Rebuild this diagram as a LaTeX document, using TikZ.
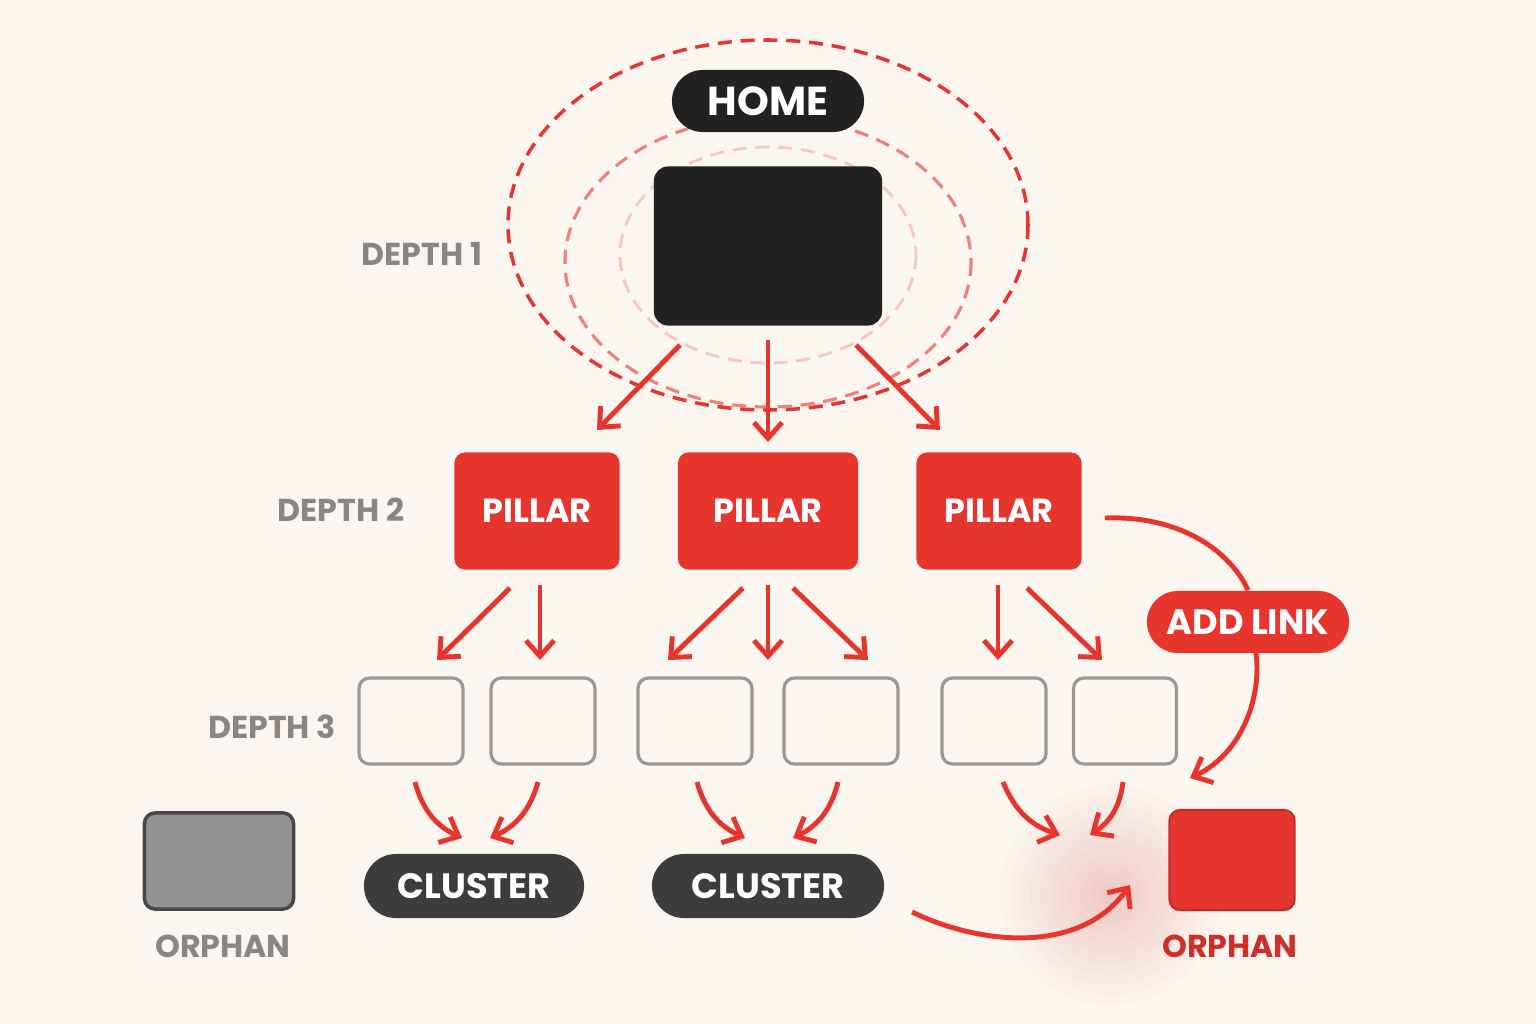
\documentclass[tikz,border=0pt]{standalone}
\usepackage{fontspec}
\setmainfont{Poppins}
\usetikzlibrary{arrows.meta}
\definecolor{bg}{HTML}{FBF6F0}
\definecolor{rd}{HTML}{E5352D}
\definecolor{dk}{HTML}{222222}
\definecolor{cl}{HTML}{3C3C3C}
\definecolor{gt}{HTML}{8A8684}
\definecolor{bx}{HTML}{9A9896}
\begin{document}
\begin{tikzpicture}[x=0.01cm,y=-0.01cm,
 arr/.style={rd,line width=1.4pt,-{Straight Barb[length=4.5pt,width=8pt]}},
 lbl/.style={font=\bfseries\fontsize{9}{9}\selectfont,text=gt},
 pill/.style={draw=none,text=white,font=\bfseries\fontsize{10}{10}\selectfont,minimum height=0.62cm,rounded corners=0.31cm},
 pillar/.style={fill=rd,rounded corners=3pt,minimum width=1.65cm,minimum height=1.17cm,text=white,font=\bfseries\fontsize{9.5}{9.5}\selectfont},
 d3/.style={draw=bx,line width=0.9pt,rounded corners=3pt,fill=bg}]
\fill[bg] (0,0) rectangle (1536,1024);
\foreach \r in {110,100,...,10} \fill[rd,opacity=0.018] (1110,895) circle (\r);
% ellipses
\draw[rd,line width=1pt,dash pattern=on 4pt off 2.5pt] (768,225) ellipse [x radius=260,y radius=185];
\draw[rd!60!bg,line width=0.9pt,dash pattern=on 4pt off 2.5pt] (768,262) ellipse [x radius=203,y radius=145];
\draw[rd!25!bg,line width=0.8pt,dash pattern=on 4pt off 2.5pt] (768,255) ellipse [x radius=148,y radius=108];
\node[pill,fill=dk,minimum width=1.92cm,font=\bfseries\fontsize{11.5}{11.5}\selectfont] (home) at (768,101) {HOME};
\node[fill=dk,rounded corners=4pt,minimum width=2.28cm,minimum height=1.59cm] (hb) at (768,246) {};
\node[lbl] (d1) at (422,254) {DEPTH 1};
\node[lbl] (d2) at (341,510) {DEPTH 2};
\node[lbl] (d3) at (272,727) {DEPTH 3};
\node[pillar] (p1) at (537,511) {PILLAR};
\node[pillar,minimum width=1.80cm] (p2) at (768,511) {PILLAR};
\node[pillar] (p3) at (999,511) {PILLAR};
\coordinate (a1) at (680,345); \coordinate (b1) at (597,430);
\coordinate (a2) at (768,340); \coordinate (b2) at (768,442);
\coordinate (a3) at (856,345); \coordinate (b3) at (940,430);
\draw[arr] (a1)--(b1); \draw[arr] (a2)--(b2); \draw[arr] (a3)--(b3);
% depth3 boxes
\foreach \n/\x/\w in {q1/411/104,q2/543/104,q3/695/114,q4/841/114,q5/994/104,q6/1125/103}
  \node[d3,minimum width=\w*0.01cm,minimum height=0.86cm] (\n) at (\x,721) {};
\foreach \s/\e in {{(510,588)}/{(437,660)},{(540,585)}/{(540,660)},{(743,588)}/{(668,660)},{(768,585)}/{(768,660)},{(793,588)}/{(868,660)},{(998,585)}/{(998,660)},{(1027,588)}/{(1102,660)}}
  \draw[arr] \s -- \e;
% clusters
\node[pill,fill=cl,minimum width=2.2cm,minimum height=0.64cm,rounded corners=0.32cm] (c1) at (474,886) {CLUSTER};
\node[pill,fill=cl,minimum width=2.32cm,minimum height=0.64cm,rounded corners=0.32cm] (c2) at (768,886) {CLUSTER};
\draw[arr] (415,782) to[bend right=25] (462,838);
\draw[arr] (538,782) to[bend left=25] (490,838);
\draw[arr] (697,782) to[bend right=25] (745,838);
\draw[arr] (838,782) to[bend left=25] (793,838);
\draw[arr] (1003,782) to[bend right=25] (1060,835);
\draw[arr] (1123,782) to[bend left=25] (1090,835);
% orphans
\node[fill=gray!85,draw=gray!20!black!80,line width=1pt,rounded corners=3pt,minimum width=1.49cm,minimum height=0.96cm] (o1) at (219,861) {};
\node[lbl] (o1t) at (223,946) {ORPHAN};
\node[fill=rd,draw=rd!85!black,line width=0.6pt,rounded corners=3pt,minimum width=1.25cm,minimum height=1.0cm] (o2) at (1232,860) {};
\node[lbl,text=rd!90!black] (o2t) at (1230,946) {ORPHAN};
% add link
\node[pill,fill=rd,minimum width=2.02cm,minimum height=0.62cm] (al) at (1248,622) {ADD LINK};
\coordinate (s1) at (1105,518);
\draw[rd,line width=1.4pt] (s1) .. controls (1190,515) and (1235,560) .. (al.north);
\draw[arr] (1256,653) .. controls (1262,700) and (1240,755) .. (1190,778);
\draw[arr] (912,912) .. controls (980,945) and (1080,955) .. (1130,885);
\end{tikzpicture}
\end{document}
